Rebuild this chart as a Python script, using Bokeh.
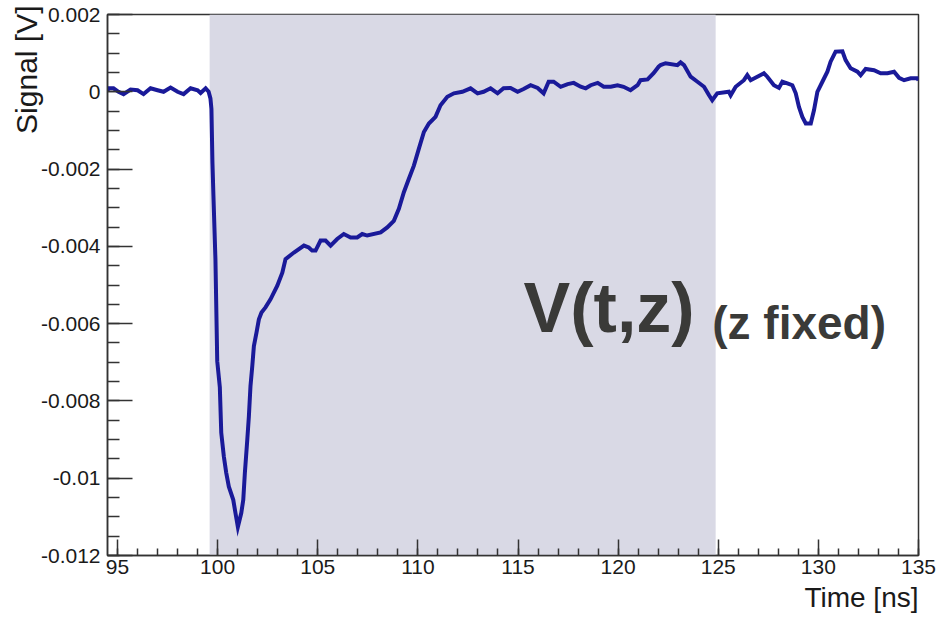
import numpy as np
from bokeh.plotting import figure
from bokeh.models import (Range1d, FixedTicker, BoxAnnotation, Label, Title,
                          CustomJSTickFormatter, ColumnDataSource)
from bokeh.embed import file_html
from bokeh.resources import INLINE

# ---- data ----
time_ns = [94.50, 94.55, 94.80, 95.05, 95.30, 95.65, 96.00, 96.30, 96.65, 97.00,
           97.30, 97.65, 98.00, 98.30, 98.65, 99.00, 99.15, 99.40, 99.55, 99.64,
           99.69, 99.74, 99.79, 99.89, 99.98, 100.11, 100.18, 100.31, 100.43, 100.56,
           100.78, 100.89, 101.01, 101.18, 101.28, 101.36, 101.48, 101.56, 101.64, 101.73,
           101.81, 101.94, 102.06, 102.19, 102.39, 102.64, 102.98, 103.23, 103.39, 103.81,
           104.31, 104.55, 104.72, 104.89, 105.14, 105.39, 105.64, 105.97, 106.30, 106.64,
           106.97, 107.22, 107.47, 108.14, 108.47, 108.80, 109.05, 109.30, 109.55, 109.80,
           110.05, 110.30, 110.55, 110.88, 111.13, 111.47, 111.80, 112.22, 112.63, 112.98,
           113.28, 113.63, 113.98, 114.28, 114.63, 114.98, 115.28, 115.63, 115.98, 116.28,
           116.53, 116.78, 117.13, 117.48, 117.78, 118.13, 118.38, 118.63, 118.98, 119.28,
           119.63, 119.97, 120.27, 120.62, 120.97, 121.12, 121.47, 121.77, 122.02, 122.12,
           122.37, 122.96, 123.12, 123.29, 123.62, 123.96, 124.29, 124.54, 124.70, 124.95,
           125.53, 125.62, 125.87, 126.28, 126.45, 126.62, 127.28, 127.45, 127.78, 128.03,
           128.20, 128.45, 128.70, 128.87, 129.03, 129.20, 129.37, 129.62, 129.78, 129.95,
           130.20, 130.45, 130.61, 130.86, 131.20, 131.36, 131.61, 131.95, 132.11, 132.36,
           132.78, 133.11, 133.45, 133.78, 134.03, 134.28, 134.61, 134.94, 135.00]

signal_mV = [0.03, 0.09, 0.09, 0.00, -0.06, 0.06, 0.04, -0.06, 0.09, 0.04,
             0.00, 0.11, 0.00, -0.06, 0.09, 0.04, -0.03, 0.09, 0.00, -0.17,
             -0.44, -1.82, -2.69, -4.33, -6.97, -7.65, -8.82, -9.44, -9.86, -10.22,
             -10.56, -10.90, -11.26, -10.90, -10.56, -9.86, -9.01, -8.40, -7.62, -7.10,
             -6.58, -6.23, -5.89, -5.71, -5.58, -5.37, -5.02, -4.68, -4.33, -4.16,
             -3.98, -4.03, -4.11, -4.11, -3.85, -3.85, -3.98, -3.81, -3.68, -3.77,
             -3.77, -3.68, -3.72, -3.64, -3.51, -3.34, -3.03, -2.60, -2.25, -1.91,
             -1.47, -1.04, -0.82, -0.65, -0.35, -0.13, -0.04, 0.00, 0.09, -0.04,
             0.00, 0.09, -0.04, 0.09, 0.10, 0.00, 0.07, 0.17, 0.10, -0.04,
             0.26, 0.26, 0.13, 0.20, 0.23, 0.13, 0.09, 0.17, 0.23, 0.13,
             0.13, 0.17, 0.13, 0.04, 0.17, 0.30, 0.32, 0.48, 0.65, 0.69,
             0.74, 0.69, 0.76, 0.69, 0.39, 0.26, 0.13, -0.09, -0.22, -0.04,
             0.00, -0.09, 0.13, 0.30, 0.43, 0.30, 0.48, 0.39, 0.17, 0.10,
             0.26, 0.22, 0.17, -0.04, -0.39, -0.65, -0.82, -0.82, -0.48, 0.00,
             0.26, 0.52, 0.78, 1.04, 1.05, 0.82, 0.61, 0.52, 0.43, 0.59,
             0.56, 0.48, 0.48, 0.52, 0.36, 0.30, 0.35, 0.35, 0.30]

signal_V = [v * 1e-3 for v in signal_mV]

shade_start_ns = 99.6
shade_end_ns = 124.87

x_major_ticks = [95, 100, 105, 110, 115, 120, 125, 130, 135]
y_major_ticks = [-0.012, -0.010, -0.008, -0.006, -0.004, -0.002, 0.0, 0.002]

x_title = "Time [ns]"
y_title = "Signal [V]"
big_text = "V(t,z)"
small_text = "(z fixed)"

# ---- figure ----
FONT = "Liberation Sans"
p = figure(width=943, height=619, output_backend="svg", toolbar_location=None,
           x_range=Range1d(94.5, 135.0), y_range=Range1d(-0.012, 0.002),
           min_border_left=107, min_border_right=25, min_border_top=14,
           min_border_bottom=64, background_fill_color="white",
           border_fill_color="white")
p.grid.visible = False
p.outline_line_color = "#333333"
p.outline_line_width = 1.5

shade = BoxAnnotation(left=shade_start_ns, right=shade_end_ns,
                      fill_color="#d9d9e5", fill_alpha=1.0, line_alpha=0,
                      level="underlay")
p.add_layout(shade)

src = ColumnDataSource(dict(t=time_ns, v=signal_V))
p.line("t", "v", source=src, line_color="#1a1a99", line_width=4,
       line_join="miter")

# axes styling
xa = p.xaxis[0]
xa.ticker = FixedTicker(ticks=x_major_ticks,
                        minor_ticks=[95 + i for i in range(-1, 41)])
xa.major_tick_in = 16
xa.major_tick_out = 0
xa.minor_tick_in = 7
xa.minor_tick_out = 0
xa.axis_line_color = "#333333"
xa.axis_line_width = 1.5
xa.major_tick_line_color = "#333333"
xa.minor_tick_line_color = "#333333"
xa.major_tick_line_width = 1.5
xa.minor_tick_line_width = 1.5
xa.major_label_text_font = FONT
xa.major_label_text_font_size = "21px"
xa.major_label_text_color = "#1a1a1a"
xa.major_label_standoff = 4

ya = p.yaxis[0]
ya.ticker = FixedTicker(ticks=y_major_ticks,
                        minor_ticks=[-0.012 + 0.0005 * i for i in range(0, 29)])
ya.formatter = CustomJSTickFormatter(code="""
if (Math.abs(tick) < 1e-12) { return "0"; }
let s = tick.toFixed(3);
s = s.replace(/0+$/, "");
return s;
""")
ya.major_tick_in = 25
ya.major_tick_out = 0
ya.minor_tick_in = 12
ya.minor_tick_out = 0
ya.axis_line_color = "#333333"
ya.axis_line_width = 1.5
ya.major_tick_line_color = "#333333"
ya.minor_tick_line_color = "#333333"
ya.major_tick_line_width = 1.5
ya.minor_tick_line_width = 1.5
ya.major_label_text_font = FONT
ya.major_label_text_font_size = "21px"
ya.major_label_text_color = "#1a1a1a"
ya.major_label_standoff = 7

# axis titles (ROOT style: aligned to the end of the axis)
p.add_layout(Title(text=x_title, align="right", text_font=FONT,
                   text_font_style="normal", text_font_size="28px",
                   text_color="#1a1a1a", standoff=7), "below")
p.add_layout(Title(text=y_title, align="right", text_font=FONT,
                   text_font_style="normal", text_font_size="30px",
                   text_color="#1a1a1a", standoff=-11, offset=-9), "left")

# annotation text
p.add_layout(Label(x=115.28, y=-0.0056, text=big_text, text_align="left",
                   text_baseline="alphabetic", text_font=FONT,
                   text_font_style="bold", text_font_size="70px",
                   text_color="#3a3a38"))
p.add_layout(Label(x=124.70, y=-0.00598, text=small_text, text_align="left",
                   text_baseline="alphabetic", text_font=FONT,
                   text_font_style="bold", text_font_size="46px",
                   text_color="#3a3a38"))

open("out.html", "w").write(file_html(p, INLINE))
